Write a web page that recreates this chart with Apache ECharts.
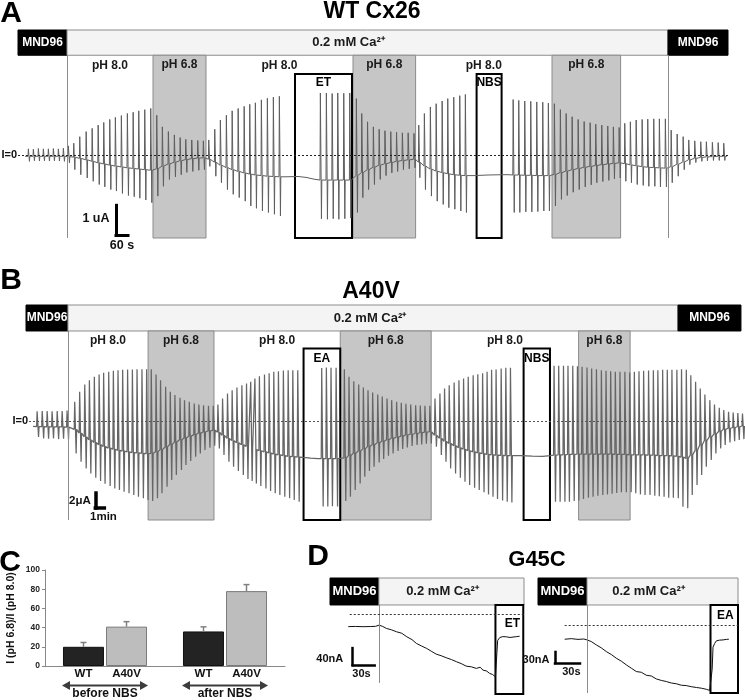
<!DOCTYPE html>
<html>
<head>
<meta charset="utf-8">
<title>Cx26 hemichannel currents</title>
<script src="https://cdn.jsdelivr.net/npm/echarts@6/dist/echarts.min.js"></script>
<style>
  html, body { margin: 0; padding: 0; background: #fff; }
  #chart { width: 745px; height: 700px; }
</style>
</head>
<body>
<div id="chart"></div>
<script>
// ---------- panel A: WT Cx26 (time in s, current in uA) ----------
// one entry per voltage pulse; null top/bottom = holding current only
const aTime = [35,
  50, 75, 100, 125, 150, 175, 200, 225, 250,
  277, 307, 339, 369, 399, 427, 457, 485, 515, 545, 574, 602, 632, 662,
  692, 720, 750, 780, 809, 837, 867, 897, 925,
  952, 982, 1010, 1040, 1069, 1099, 1129, 1157, 1185, 1215, 1245, 1275, 1305,
  1340, 1400, 1440, 1480,
  1510, 1540, 1569, 1597, 1627, 1657,
  1690, 1717, 1746, 1775, 1804, 1833, 1862, 1891, 1920, 1949, 1978,
  2002, 2030, 2060, 2089, 2119, 2147, 2177, 2207, 2235,
  2280, 2350, 2420, 2455,
  2474, 2502, 2532, 2562, 2592, 2622, 2650,
  2680, 2710, 2739, 2769, 2799, 2829, 2859, 2887, 2917, 2947, 2975, 3004,
  3032, 3060, 3089, 3119, 3147, 3177, 3205, 3235,
  3264, 3294, 3324, 3352, 3382, 3412, 3440, 3470, 3499, 3527,
  3545];
const aTop = [null,
  0.2, 0.19, 0.21, 0.2, 0.2, 0.21, 0.2, 0.22, 0.3,
  0.39, 0.61, 0.78, 0.89, 1.0, 1.09, 1.19, 1.26, 1.32, 1.39, 1.43, 1.48, 1.52, 1.56,
  1.33, 0.94, 0.78, 0.67, 0.58, 0.52, 0.5, 0.48, 0.47,
  0.5, 0.86, 1.17, 1.33, 1.48, 1.56, 1.63, 1.7, 1.75, 1.85, 1.9, 1.94, 1.97,
  null, null, null, null,
  2.08, 2.08, 2.06, 2.08, 2.07, 2.08,
  1.89, 1.39, 1.11, 0.94, 0.86, 0.81, 0.78, 0.76, 0.74, 0.74, 0.72,
  1.0, 1.39, 1.61, 1.72, 1.81, 1.89, 1.94, 1.99, 2.03,
  null, null, null, null,
  1.86, 1.83, 1.81, 1.8, 1.78, 1.77, 1.74,
  1.72, 1.52, 1.39, 1.28, 1.19, 1.12, 1.08, 1.03, 1.0, 0.97, 0.94, 0.92,
  1.06, 1.11, 1.17, 1.19, 1.2, 1.21, 1.21, 1.21,
  0.83, 0.7, 0.61, 0.5, 0.47, 0.44, 0.44, 0.42, 0.41, 0.39,
  null];
const aBottom = [null,
  -0.22, -0.2, -0.21, -0.2, -0.21, -0.2, -0.21, -0.22, -0.27,
  -0.5, -0.67, -0.78, -0.89, -1.0, -1.08, -1.17, -1.22, -1.3, -1.37, -1.41, -1.46, -1.52, -1.61,
  -1.39, -1.06, -0.83, -0.74, -0.67, -0.59, -0.56, -0.52, -0.5,
  -0.39, -0.72, -0.94, -1.17, -1.33, -1.44, -1.56, -1.72, -1.8, -1.89, -1.94, -2.0, -2.06,
  null, null, null, null,
  -2.15, -2.17, -2.15, -2.17, -2.15, -2.13,
  -1.94, -1.44, -1.17, -1.0, -0.83, -0.7, -0.61, -0.56, -0.5, -0.47, -0.44,
  -0.77, -1.17, -1.39, -1.56, -1.67, -1.78, -1.83, -1.89, -1.94,
  null, null, null, null,
  -1.94, -1.94, -1.92, -1.92, -1.91, -1.89, -1.89,
  -1.72, -1.5, -1.37, -1.26, -1.17, -1.08, -1.01, -0.94, -0.9, -0.86, -0.81, -0.78,
  -0.89, -0.94, -1.0, -1.03, -1.06, -1.06, -1.08, -1.08,
  -0.94, -0.72, -0.5, -0.33, -0.26, -0.22, -0.2, -0.19, -0.19, -0.19,
  null];
const aBase = [-0.05,
  -0.05, -0.05, -0.05, -0.05, -0.05, -0.05, -0.05, -0.05, -0.06,
  -0.08, -0.12, -0.17, -0.22, -0.27, -0.31, -0.35, -0.38, -0.41, -0.44, -0.46, -0.48, -0.5, -0.52,
  -0.47, -0.38, -0.31, -0.25, -0.2, -0.16, -0.13, -0.11, -0.1,
  -0.15, -0.25, -0.35, -0.43, -0.5, -0.56, -0.61, -0.65, -0.68, -0.7, -0.72, -0.73, -0.74,
  -0.74, -0.73, -0.76, -0.82,
  -0.85, -0.85, -0.85, -0.85, -0.85, -0.85,
  -0.7, -0.6, -0.5, -0.42, -0.35, -0.3, -0.26, -0.22, -0.19, -0.17, -0.15,
  -0.25, -0.38, -0.48, -0.55, -0.6, -0.64, -0.67, -0.69, -0.7,
  -0.7, -0.68, -0.67, -0.67,
  -0.68, -0.68, -0.69, -0.69, -0.7, -0.7, -0.7,
  -0.66, -0.6, -0.55, -0.5, -0.46, -0.42, -0.39, -0.36, -0.33, -0.31, -0.29, -0.27,
  -0.3, -0.34, -0.37, -0.4, -0.42, -0.43, -0.44, -0.45,
  -0.4, -0.32, -0.24, -0.17, -0.12, -0.09, -0.07, -0.06, -0.05, -0.05,
  -0.05];
const aSolutions = ['MND96', '0.2 mM Ca²⁺', 'MND96'];
const aSolutionEdges = [0, 245, 3250, 3550];
const aPhLabels = ['pH 8.0', 'pH 6.8', 'pH 8.0', 'pH 6.8', 'pH 8.0', 'pH 6.8', ''];
const aPhEdges = [245, 675, 940, 1675, 1988, 2670, 3013, 3250];
const aBoxLabels = ['ET', 'NBS'];
const aBoxStart = [1385, 2293];
const aBoxEnd = [1670, 2418];
const aScaleLabels = ['1 uA', '60 s'];
const aScaleSize = [1, 60];

// ---------- panel B: A40V ----------
const bTime = [47,
  71, 105, 138, 171, 205, 238, 271,
  322, 355, 389, 420, 453, 485, 515, 549, 580, 611, 642, 675, 707, 738, 771, 802,
  833, 865, 895, 929, 960, 991, 1025, 1055, 1087, 1120, 1151, 1182, 1215, 1247,
  1278, 1309, 1342, 1373, 1405, 1438, 1469, 1497, 1525, 1555, 1589, 1620, 1651, 1682, 1715, 1747, 1778, 1811,
  1850, 1900, 1950,
  1971, 2002, 2033, 2067,
  2122, 2153, 2185, 2218, 2249, 2280, 2311, 2345, 2375, 2407, 2438, 2471, 2502, 2533, 2565, 2598, 2629, 2660, 2693,
  2727, 2760, 2791, 2822, 2855, 2887, 2918, 2949, 2982, 3013, 3045, 3075, 3105, 3135, 3169, 3200, 3231,
  3300, 3380, 3450, 3500,
  3522, 3553, 3585, 3615, 3647, 3678, 3709, 3742, 3773, 3805, 3838, 3869, 3900, 3931, 3962, 3995, 4027, 4058, 4089, 4120,
  4153, 4185, 4215, 4247, 4278, 4309, 4342, 4373, 4405, 4435, 4467, 4498, 4529, 4562, 4593, 4625, 4655, 4687, 4718, 4749, 4780];
const bTop = [null,
  1.3, 1.35, 1.35, 1.32, 1.35, 1.35, 1.4,
  2.58, 3.91, 4.89, 5.47, 5.91, 6.22, 6.44, 6.58, 6.71, 6.8, 6.84, 6.89, 6.89, 6.93, 6.93, 6.93,
  6.93, 6.22, 5.47, 4.58, 3.91, 3.47, 3.11, 2.8, 2.58, 2.36, 2.22, 2.13, 2.04, 2.04,
  2.22, 3.02, 3.69, 4.13, 4.49, 4.8, 5.02, 5.24, 5.69, 6.0, 6.22, 6.4, 6.58, 6.67, 6.76, 6.8, 6.8, 6.8,
  null, null, null,
  7.1, 7.15, 7.11, 7.13,
  6.93, 5.91, 5.33, 4.89, 4.49, 4.13, 3.82, 3.56, 3.29, 3.02, 2.8, 2.58, 2.44, 2.31, 2.22, 2.13, 2.09, 2.04, 2.04,
  3.02, 3.69, 4.36, 4.8, 5.16, 5.47, 5.69, 5.91, 6.13, 6.27, 6.4, 6.58, 6.84, 6.89, 7.02, 7.11, 7.11,
  null, null, null, null,
  7.38, 7.38, 7.38, 7.38, 7.38, 7.33, 7.24, 7.16, 7.02, 6.93, 6.8, 6.71, 6.67, 6.58, 6.58, 6.58, 6.49, 6.58, 6.67, 6.71,
  6.76, 6.8, 6.8, 6.84, 6.84, 6.84, 6.84, 6.93, 6.84, 6.13, 5.24, 4.36, 3.56, 2.8, 2.22, 1.78, 1.47, 1.24, 1.16, 1.07, 1.02];
const bBottom = [null,
  -2.1, -2.3, -2.35, -2.3, -2.4, -2.35, -2.45,
  -4.31, -5.42, -6.31, -6.98, -7.56, -8.0, -8.36, -8.67, -8.98, -9.2, -9.42, -9.64, -9.87, -10.09, -10.31, -10.53,
  -10.67, -10.31, -9.64, -8.76, -7.87, -7.2, -6.53, -5.87, -5.33, -4.76, -4.31, -3.87, -3.56, -3.29,
  -3.64, -4.53, -5.42, -6.09, -6.67, -7.2, -7.73, -8.0, -8.31, -8.67, -8.98, -9.33, -9.64, -9.87, -10.09, -10.31, -10.53, -10.76,
  null, null, null,
  -11.4, -11.4, -11.35, -11.4,
  -10.67, -10.09, -9.2, -8.31, -7.42, -6.67, -6.09, -5.51, -5.07, -4.62, -4.31, -4.0, -3.73, -3.51, -3.33, -3.2, -3.11, -3.02, -2.98,
  -3.42, -4.53, -5.42, -6.31, -6.98, -7.56, -8.09, -8.53, -8.89, -9.2, -9.5, -9.8, -10.1, -10.4, -10.6, -10.75, -10.85,
  null, null, null, null,
  -10.76, -10.76, -10.76, -10.76, -10.67, -10.58, -10.4, -10.22, -10.09, -9.96, -9.87, -9.78, -9.69, -9.6, -9.51, -9.51, -9.51, -9.64, -9.78, -9.87,
  -9.87, -9.96, -10.04, -10.09, -10.22, -10.22, -10.31, -11.42, -11.64, -9.87, -8.53, -7.2, -6.09, -5.2, -4.31, -3.64, -3.2, -2.84, -2.67, -2.53, -2.4];
const bBase = [-0.7,
  -0.72, -0.75, -0.76, -0.76, -0.78, -0.78, -0.8,
  -1.1, -1.6, -2.1, -2.5, -2.85, -3.15, -3.4, -3.6, -3.75, -3.9, -4.0, -4.1, -4.2, -4.25, -4.3, -4.35,
  -4.3, -4.1, -3.8, -3.45, -3.1, -2.8, -2.5, -2.25, -2.0, -1.8, -1.6, -1.45, -1.32, -1.2,
  -1.5, -1.9, -2.3, -2.6, -2.9, -3.15, -3.4, -3.6, -3.8, -3.95, -4.1, -4.25, -4.4, -4.5, -4.6, -4.7, -4.75, -4.8,
  -4.85, -4.95, -5.0,
  -5.0, -5.0, -5.0, -5.0,
  -4.9, -4.6, -4.3, -4.0, -3.7, -3.4, -3.15, -2.9, -2.7, -2.5, -2.3, -2.15, -2.0, -1.85, -1.75, -1.65, -1.55, -1.48, -1.42,
  -1.9, -2.3, -2.7, -3.0, -3.3, -3.55, -3.75, -3.95, -4.1, -4.25, -4.35, -4.45, -4.5, -4.55, -4.58, -4.6, -4.6,
  -4.6, -4.68, -4.7, -4.62,
  -4.55, -4.5, -4.5, -4.45, -4.45, -4.4, -4.4, -4.4, -4.4, -4.4, -4.4, -4.4, -4.4, -4.45, -4.45, -4.45, -4.5, -4.5, -4.5, -4.5,
  -4.55, -4.55, -4.6, -4.6, -4.6, -4.65, -4.7, -4.8, -4.98, -4.5, -3.9, -3.2, -2.6, -2.1, -1.7, -1.35, -1.1, -0.95, -0.85, -0.75, -0.65];
const bSolutions = ['MND96', '0.2 mM Ca²⁺', 'MND96'];
const bSolutionEdges = [0, 280, 4353, 4773];
const bPhLabels = ['pH 8.0', 'pH 6.8', 'pH 8.0', 'pH 6.8', 'pH 8.0', 'pH 6.8', ''];
const bPhEdges = [280, 815, 1255, 2098, 2705, 3689, 4033, 4353];
const bBoxLabels = ['EA', 'NBS'];
const bBoxStart = [1853, 3322];
const bBoxEnd = [2098, 3498];
const bScaleLabels = ['2μA', '1min'];
const bScaleSize = [2, 60];

// ---------- panel C: current ratio ----------
const cGroups = ['before NBS', 'after NBS'];
const cSeries = ['WT', 'A40V'];
const cWT = [20, 36];
const cWTErr = [4.5, 4.8];
const cA40V = [41, 78];
const cA40VErr = [5.2, 6.8];

// ---------- panel D: G45C (time in s, current in nA) ----------
const dLeftTime = [25, 35, 45, 55, 62, 67, 72, 77, 84, 91, 98, 105, 112, 118, 125, 132, 139, 145, 152, 159, 166,
  173, 180, 186, 193, 200, 205, 209, 214, 218, 222, 226, 227, 228, 229, 232, 236, 241, 246, 250, 255, 259];
const dLeftCurrent = [-29.4, -29, -29.6, -29.2, -28.8, -26, -29, -33.6, -37, -41.6, -45, -53.4, -60, -68.9, -75, -80.7,
  -88, -94.1, -98, -102.8, -107, -112.2, -117, -122.4, -124, -127.8, -125, -131.8, -134, -139.5, -142, -147.5, -148,
  -90, -62, -55, -53, -53.4, -55, -54, -53, -52];
const dRightTime = [32, 40, 48, 55, 59, 64, 70, 76, 82, 88, 94, 100, 106, 112, 118, 124, 130, 136, 142, 148, 154, 160,
  166, 172, 178, 184, 190, 196, 202, 206, 208, 209, 210, 212, 214, 218, 222, 226, 229];
const dRightCurrent = [-38.6, -37, -39, -38, -40.5, -45, -54, -62, -72, -80, -90, -98, -108, -117, -126, -128, -136,
  -138, -146, -150, -153, -157, -159, -163, -164, -167, -169, -171, -174, -177, -176, -120, -60, -50, -43, -41, -40.5,
  -39, -38.6];
const dSolutions = ['MND96', '0.2 mM Ca²⁺'];
const dLeftEdges = [0, 66.8, 265];
const dRightEdges = [0, 58.8, 240];
const dBoxLabels = ['ET', 'EA'];
const dLeftScaleLabels = ['40nA', '30s'];
const dLeftScaleSize = [40, 30];
const dRightScaleLabels = ['30nA', '30s'];
const dRightScaleSize = [30, 30];

const FONT = '"Liberation Sans", Arial, sans-serif';

// turn pulse table into a polyline: holding -> peak -> trough -> holding
function pulseTrace(time, top, bottom, base, width) {
  const pts = [];
  for (let i = 0; i < time.length; i++) {
    const t = time[i];
    if (top[i] == null) { pts.push([t, base[i]]); continue; }
    pts.push([t, base[i]], [t + width * 0.2, top[i]], [t + width * 0.8, bottom[i]], [t + width, base[i]]);
  }
  return pts;
}

function solutionBars(names, edges, low, high, fontSize, caSize, caShift) {
  return names.map((name, i) => {
    const mnd = name === 'MND96';
    return [{
      xAxis: edges[i], yAxis: low, name: name,
      itemStyle: mnd ? { color: '#000', borderColor: '#000', borderWidth: 1 }
                     : { color: '#f4f4f4', borderColor: '#8c8c8c', borderWidth: 1 },
      label: { position: 'inside', color: mnd ? '#fff' : '#1a1a1a', fontSize: mnd ? fontSize : caSize,
               offset: [mnd ? 0 : caShift, 0] }
    }, { xAxis: edges[i + 1], yAxis: high }];
  });
}

function phBands(labels, edges, low, high) {
  return labels.map((name, i) => [{
    xAxis: edges[i], yAxis: low, name: name,
    itemStyle: name === 'pH 6.8' ? { color: '#c6c6c6', borderColor: '#8c8c8c', borderWidth: 1 }
                                 : { color: 'rgba(0,0,0,0)', borderWidth: 0 },
    label: { position: 'insideTop', distance: 4, color: '#1a1a1a', fontSize: 12 }
  }, { xAxis: edges[i + 1], yAxis: high }]);
}

function boxes(labels, starts, ends, top, bottom, distance, shift) {
  return labels.map((name, i) => [{
    xAxis: starts[i], yAxis: top, name: name,
    label: { distance: distance, offset: [shift || 0, 0] }
  }, { xAxis: ends[i], yAxis: bottom }]);
}

function vLines(times, top, bottom) {
  return times.map(t => [{ coord: [t, top] }, { coord: [t, bottom] }]);
}

// L-shaped scale bar: vertical = size[0] current units, horizontal = size[1] seconds
function scaleBar(t0, yTop, size, width) {
  const style = { color: '#000', width: width, type: 'solid', cap: 'square' };
  return [
    [{ coord: [t0, yTop], lineStyle: style }, { coord: [t0, yTop - size[0]] }],
    [{ coord: [t0, yTop - size[0]], lineStyle: style }, { coord: [t0 + size[1], yTop - size[0]] }]
  ];
}

function zeroLine(t0, t1, label, color) {
  return [{
    coord: [t0, 0],
    lineStyle: { color: color, width: 1, type: [2, 2] },
    label: { show: !!label, position: 'start', formatter: label || '', distance: 1,
             fontFamily: FONT, fontWeight: 'bold', fontSize: 11, color: '#111' }
  }, { coord: [t1, 0] }];
}

function textMark(coord, text, position, distance, fontSize) {
  return { coord: coord, name: text,
           label: { position: position, distance: distance, fontSize: fontSize } };
}

const markAreaLabel = { show: true, fontFamily: FONT, fontWeight: 'bold', fontSize: 12 };
const markPointBase = {
  symbol: 'rect', symbolSize: 1, silent: true,
  itemStyle: { color: 'rgba(0,0,0,0)' },
  label: { show: true, formatter: '{b}', fontFamily: FONT, fontWeight: 'bold', color: '#111' }
};

function decorSeries(idx, markArea, lines) {
  return {
    type: 'line', xAxisIndex: idx, yAxisIndex: idx, data: [], z: 1, silent: true, clip: false,
    markArea: { silent: true, label: markAreaLabel, data: markArea },
    markLine: { silent: true, symbol: ['none', 'none'], label: { show: false },
                lineStyle: { color: '#8c8c8c', width: 1, type: 'solid' }, data: lines }
  };
}

function overlaySeries(idx, boxData, boxFont, lines, points) {
  return {
    type: 'line', xAxisIndex: idx, yAxisIndex: idx, data: [], z: 4, silent: true, clip: false,
    markArea: { silent: true,
                itemStyle: { color: 'rgba(0,0,0,0)', borderColor: '#000', borderWidth: 2 },
                label: Object.assign({}, markAreaLabel, { position: 'insideTop', color: '#000', fontSize: boxFont }),
                data: boxData },
    markLine: { silent: true, symbol: ['none', 'none'], label: { show: false }, data: lines },
    markPoint: Object.assign({}, markPointBase, { data: points })
  };
}

function traceSeries(idx, name, data, color, width) {
  return {
    type: 'line', name: name, xAxisIndex: idx, yAxisIndex: idx, data: data, z: 2,
    symbol: 'none', showSymbol: false, silent: true, clip: false,
    lineStyle: { color: color, width: width, join: 'bevel' }
  };
}

function errorBar(shift) {
  return function (params, api) {
    const i = api.value(0);
    const base = api.coord([i, api.value(1)]);
    const tip = api.coord([i, api.value(1) + api.value(2)]);
    const x = base[0] + shift;
    const style = { stroke: '#808080', lineWidth: 1.5, fill: null };
    return {
      type: 'group',
      children: [
        { type: 'line', shape: { x1: x, y1: base[1], x2: x, y2: tip[1] }, style: style },
        { type: 'line', shape: { x1: x - 3, y1: tip[1], x2: x + 3, y2: tip[1] }, style: style }
      ]
    };
  };
}

// axis ranges (layout)
const A_Y = [-2.8, 4.2], A_BAR = 3.35, A_BOX = 2.72;
const B_Y = [-13.2, 15.5], B_BAR = 12.03, B_BOX = 9.7;
const DL_Y = [-188, 85], DL_BAR = 21.5;
const DR_Y = [-184, 127], DR_BAR = 54;

const hiddenValue = (min, max, grid) => ({ type: 'value', gridIndex: grid, min: min, max: max, show: false });

const chart = echarts.init(document.getElementById('chart'));

const option = {
  animation: false,
  backgroundColor: '#fff',
  textStyle: { fontFamily: FONT },
  grid: [
    { left: 18, top: 30, width: 710, height: 208 },
    { left: 26, top: 305, width: 720, height: 215 },
    { left: 45, top: 570, width: 240, height: 97 },
    { left: 330, top: 578, width: 194, height: 116 },
    { left: 538, top: 578, width: 200, height: 115 }
  ],
  xAxis: [
    hiddenValue(0, 3550, 0),
    hiddenValue(0, 4800, 1),
    {
      type: 'category', gridIndex: 2, data: cGroups,
      axisLine: { lineStyle: { color: '#888', width: 1 } },
      axisTick: { show: false },
      axisLabel: { margin: 22, fontFamily: FONT, fontWeight: 'bold', fontSize: 12, color: '#111' }
    },
    hiddenValue(0, 265, 3),
    hiddenValue(0, 240, 4)
  ],
  yAxis: [
    hiddenValue(A_Y[0], A_Y[1], 0),
    hiddenValue(B_Y[0], B_Y[1], 1),
    {
      type: 'value', gridIndex: 2, min: 0, max: 100, interval: 20,
      name: 'I (pH 6.8)/I (pH 8.0)', nameLocation: 'middle', nameGap: 28,
      nameTextStyle: { fontFamily: FONT, fontWeight: 'bold', fontSize: 10.5, color: '#111' },
      axisLine: { show: true, lineStyle: { color: '#888', width: 1 } },
      axisTick: { show: true, length: 3, lineStyle: { color: '#888' } },
      splitLine: { show: false },
      axisLabel: { margin: 5, fontFamily: FONT, fontWeight: 'bold', fontSize: 8.5, color: '#222' }
    },
    hiddenValue(DL_Y[0], DL_Y[1], 3),
    hiddenValue(DR_Y[0], DR_Y[1], 4)
  ],
  series: [
    // ---- A ----
    decorSeries(0,
      solutionBars(aSolutions, aSolutionEdges, A_BAR, A_Y[1], 12, 13, -19).concat(phBands(aPhLabels, aPhEdges, A_Y[0], A_BAR)),
      vLines([aSolutionEdges[1], aSolutionEdges[2]], A_BAR, A_Y[0])),
    traceSeries(0, 'WT Cx26', pulseTrace(aTime, aTop, aBottom, aBase, 9), '#5e5e5e', 1),
    overlaySeries(0, boxes(aBoxLabels, aBoxStart, aBoxEnd, A_BOX, A_Y[0], 4), 12,
      [zeroLine(0, 3550, 'I=0', '#222')].concat(scaleBar(490, -1.7, aScaleSize, 3)),
      [textMark([490, -2.15], aScaleLabels[0], 'left', 6, 12.5), textMark([520, -2.7], aScaleLabels[1], 'bottom', 4, 12.5)]),
    // ---- B ----
    decorSeries(1,
      solutionBars(bSolutions, bSolutionEdges, B_BAR, B_Y[1], 12, 13, -3).concat(phBands(bPhLabels, bPhEdges, B_Y[0], B_BAR)),
      vLines([bSolutionEdges[1]], B_BAR, B_Y[0])),
    traceSeries(1, 'A40V', pulseTrace(bTime, bTop, bBottom, bBase, 16), '#666', 1.25),
    overlaySeries(1, boxes(bBoxLabels, bBoxStart, bBoxEnd, B_BOX, B_Y[0], 5), 12,
      [zeroLine(20, 4800, 'I=0', '#555')].concat(scaleBar(463, -9.6, bScaleSize, 3.5)),
      [textMark([463, -10.7], bScaleLabels[0], 'left', 4, 11.5), textMark([517, -11.6], bScaleLabels[1], 'bottom', 2, 11.5)]),
    // ---- C ----
    {
      type: 'bar', name: cSeries[0], xAxisIndex: 2, yAxisIndex: 2, data: cWT,
      barWidth: 41, barGap: '5%',
      itemStyle: { color: '#232323', borderColor: '#111', borderWidth: 1 },
      label: { show: true, position: 'bottom', distance: 2, formatter: cSeries[0],
               fontFamily: FONT, fontWeight: 'bold', fontSize: 11.5, color: '#111' }
    },
    {
      type: 'bar', name: cSeries[1], xAxisIndex: 2, yAxisIndex: 2, data: cA40V,
      barWidth: 41,
      itemStyle: { color: '#bdbdbd', borderColor: '#7a7a7a', borderWidth: 1 },
      label: { show: true, position: 'bottom', distance: 2, formatter: cSeries[1],
               fontFamily: FONT, fontWeight: 'bold', fontSize: 11.5, color: '#111' }
    },
    {
      type: 'custom', name: 'WT error', xAxisIndex: 2, yAxisIndex: 2, z: 5,
      encode: { x: 0, y: 1 }, renderItem: errorBar(-21.5),
      data: cWT.map((v, i) => [i, v, cWTErr[i]])
    },
    {
      type: 'custom', name: 'A40V error', xAxisIndex: 2, yAxisIndex: 2, z: 5,
      encode: { x: 0, y: 1 }, renderItem: errorBar(21.5),
      data: cA40V.map((v, i) => [i, v, cA40VErr[i]])
    },
    // ---- D left ----
    decorSeries(3, solutionBars(dSolutions, dLeftEdges, DL_BAR, DL_Y[1], 13, 13, -9), vLines([dLeftEdges[1]], DL_BAR, -162)),
    traceSeries(3, 'G45C ET', dLeftTime.map((t, i) => [t, dLeftCurrent[i]]), '#111', 1),
    overlaySeries(3, boxes([dBoxLabels[0]], [226], [264], DL_BAR, DL_Y[0], 14, 3), 12,
      [zeroLine(27, 265, '', '#333')].concat(scaleBar(31, -80, dLeftScaleSize, 2.5)),
      [textMark([31, -106], dLeftScaleLabels[0], 'left', 9, 11), textMark([43, -120], dLeftScaleLabels[1], 'bottom', 3, 11)]),
    // ---- D right ----
    decorSeries(4, solutionBars(dSolutions, dRightEdges, DR_BAR, DR_Y[1], 13, 13, -14), vLines([dRightEdges[1]], DR_BAR, DR_Y[0])),
    traceSeries(4, 'G45C EA', dRightTime.map((t, i) => [t, dRightCurrent[i]]), '#111', 1),
    overlaySeries(4, boxes([dBoxLabels[1]], [207], [240], DR_BAR, DR_Y[0], 6, 1), 12,
      [zeroLine(32, 240, '', '#333')].concat(scaleBar(20.4, -73, dRightScaleSize, 2.5)),
      [textMark([20.4, -94], dRightScaleLabels[0], 'left', 5, 11), textMark([40, -103], dRightScaleLabels[1], 'bottom', 3, 11)])
  ]
};

chart.setOption(option);

// titles, panel letters, and the before/after arrows under panel C
function label(id, x, y, text, size) {
  return { type: 'text', id: id, x: x, y: y, silent: true,
           style: { text: text, fill: '#000', font: 'bold ' + size + 'px ' + FONT, align: 'center', verticalAlign: 'middle' } };
}
function doubleArrow(id, x1, x2, y) {
  const head = 8, half = 4.5, color = '#3c3c3c';
  return {
    type: 'group', id: id, silent: true,
    children: [
      { type: 'line', shape: { x1: x1 + head - 1, y1: y, x2: x2 - head + 1, y2: y }, style: { stroke: color, lineWidth: 2 } },
      { type: 'polygon', shape: { points: [[x1, y], [x1 + head, y - half], [x1 + head, y + half]] }, style: { fill: color } },
      { type: 'polygon', shape: { points: [[x2, y], [x2 - head, y - half], [x2 - head, y + half]] }, style: { fill: color } }
    ]
  };
}

const elements = [
  label('letterA', 11, 14, 'A', 30),
  label('titleA', 372, 12, 'WT Cx26', 23),
  label('letterB', 11, 281, 'B', 30),
  label('titleB', 371, 292, 'A40V', 23),
  label('letterC', 10, 563, 'C', 30),
  label('letterD', 318, 557, 'D', 30),
  label('titleD', 537, 560, 'G45C', 22)
];
cGroups.forEach((g, i) => {
  const p = chart.convertToPixel({ gridIndex: 2 }, [i, 0]);
  elements.push(doubleArrow('arrow' + i, p[0] - 43, p[0] + 43, p[1] + 19.5));
});
chart.setOption({ graphic: elements });
</script>
</body>
</html>
